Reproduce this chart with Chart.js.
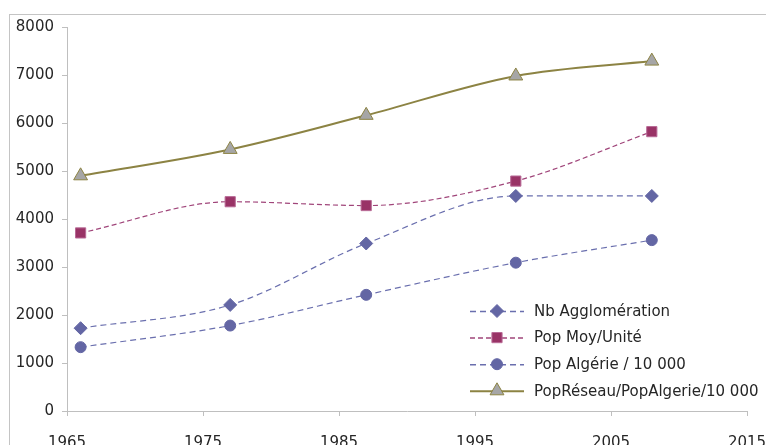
<!DOCTYPE html>
<html>
<head>
<meta charset="utf-8">
<script src="https://cdn.jsdelivr.net/npm/chart.js@4"></script>
<style>
  html, body { margin: 0; padding: 0; background: #fff; overflow: hidden; }
  #wrap { position: relative; width: 766px; height: 445px; }
</style>
</head>
<body>
<div id="wrap"><canvas id="graphe"></canvas></div>
<script>
// années de recensement
const annees = [1966, 1977, 1987, 1998, 2008];

const nbAgglo = [1725, 2210, 3490, 4480, 4480];
const popMoyUnite = [3710, 4360, 4280, 4790, 5820];
const popAlgerie = [1330, 1780, 2420, 3090, 3560];
const popReseau = [4900, 5450, 6160, 6980, 7290];

const libelles = ['Nb Agglomération', 'Pop Moy/Unité', 'Pop Algérie / 10 000', 'PopRéseau/PopAlgerie/10 000'];

const police = '"DejaVu Sans", sans-serif';

function points(valeurs) {
  return annees.map((a, i) => ({ x: a, y: valeurs[i] }));
}

// cadre gris autour du graphique
const cadre = {
  id: 'cadre',
  beforeDraw(chart) {
    const ctx = chart.ctx;
    ctx.save();
    ctx.strokeStyle = '#c4c4c4';
    ctx.lineWidth = 1;
    ctx.strokeRect(9.5, 14.5, 800, 500);
    ctx.restore();
  }
};

// légende dessinée à la main : trait (pointillé ou plein) avec le marqueur au milieu
const legende = {
  id: 'legende',
  afterDraw(chart) {
    const ctx = chart.ctx;
    const x0 = 470, x1 = 524, xt = 534;
    let y = 311;
    chart.data.datasets.forEach(ds => {
      ctx.save();
      ctx.strokeStyle = ds.borderColor;
      ctx.lineWidth = ds.legendWidth;
      ctx.setLineDash(ds.borderDash || []);
      ctx.beginPath();
      ctx.moveTo(x0, y + 0.5);
      ctx.lineTo(x1, y + 0.5);
      ctx.stroke();
      ctx.setLineDash([]);
      ctx.fillStyle = ds.pointBackgroundColor;
      ctx.strokeStyle = ds.pointBorderColor;
      ctx.lineWidth = ds.pointBorderWidth;
      Chart.helpers.drawPoint(ctx, {
        pointStyle: ds.pointStyle,
        radius: ds.pointRadius,
        borderWidth: ds.pointBorderWidth,
        rotation: 0
      }, (x0 + x1) / 2, y);
      ctx.fillStyle = '#262626';
      ctx.font = '15px ' + police;
      ctx.textBaseline = 'middle';
      ctx.fillText(ds.label, xt, y + 1);
      ctx.restore();
      y += 26.6;
    });
  }
};

const ctx = document.getElementById('graphe').getContext('2d');
new Chart(ctx, {
  type: 'line',
  data: {
    datasets: [{
      label: libelles[0],
      data: points(nbAgglo),
      borderColor: '#6a6fae',
      borderWidth: 1.2,
      legendWidth: 1.5,
      borderDash: [6, 4],
      pointStyle: 'rectRot',
      pointRadius: 6.5,
      pointBackgroundColor: '#6366a4',
      pointBorderColor: '#6366a4',
      pointBorderWidth: 1
    }, {
      label: libelles[1],
      data: points(popMoyUnite),
      borderColor: '#a0457a',
      borderWidth: 1.2,
      legendWidth: 1.5,
      borderDash: [5, 3],
      pointStyle: 'rect',
      pointRadius: 7.2,
      pointBackgroundColor: '#993366',
      pointBorderColor: '#b86a96',
      pointBorderWidth: 1
    }, {
      label: libelles[2],
      data: points(popAlgerie),
      borderColor: '#6a6fae',
      borderWidth: 1.2,
      legendWidth: 1.5,
      borderDash: [6, 4],
      pointStyle: 'circle',
      pointRadius: 5.5,
      pointBackgroundColor: '#6366a4',
      pointBorderColor: '#6366a4',
      pointBorderWidth: 1
    }, {
      label: libelles[3],
      data: points(popReseau),
      borderColor: '#8c8343',
      borderWidth: 2,
      legendWidth: 2,
      pointStyle: 'triangle',
      pointRadius: 8,
      pointBackgroundColor: '#a6a6a6',
      pointBorderColor: '#8c8343',
      pointBorderWidth: 1
    }]
  },
  options: {
    responsive: true,
    maintainAspectRatio: false,
    animation: false,
    layout: { padding: { top: 27, right: 19, left: 0, bottom: 0 } },
    elements: { line: { cubicInterpolationMode: 'monotone' } },
    plugins: {
      legend: { display: false },
      tooltip: { enabled: false }
    },
    scales: {
      x: {
        type: 'linear',
        min: 1965,
        max: 2015,
        ticks: {
          stepSize: 10,
          color: '#262626',
          font: { family: police, size: 15 },
          padding: 18,
          callback: v => String(v)
        },
        grid: { drawOnChartArea: false, drawTicks: true, tickLength: 5, color: '#bfbfbf' },
        border: { color: '#bfbfbf', width: 1 },
        afterFit(scale) {
          scale.height = 34;
          // l'étiquette 2015 peut déborder, pas de marge en plus
          scale.paddingLeft = 0;
          scale.paddingRight = 0;
        }
      },
      y: {
        min: 0,
        max: 8000,
        ticks: {
          stepSize: 1000,
          color: '#262626',
          font: { family: police, size: 15 },
          padding: 8,
          callback: v => String(v)
        },
        grid: { drawOnChartArea: false, drawTicks: true, tickLength: 5, color: '#bfbfbf' },
        border: { color: '#bfbfbf', width: 1 },
        afterFit(scale) { scale.width = 67; }
      }
    }
  },
  plugins: [cadre, legende]
});
</script>
</body>
</html>
